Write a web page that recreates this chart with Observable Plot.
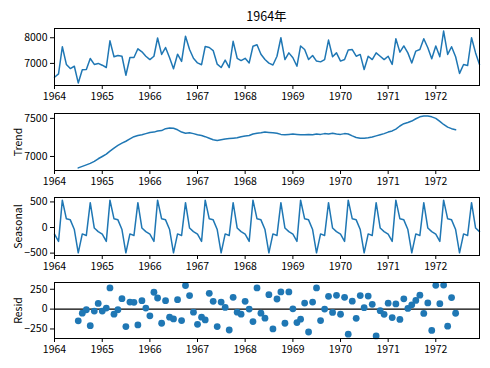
<!DOCTYPE html>
<html><head><meta charset="utf-8">
<script src="https://cdn.jsdelivr.net/npm/d3@7"></script>
<script src="https://cdn.jsdelivr.net/npm/@observablehq/plot@0.6"></script>
<style>
body{margin:0;background:#fff;}
#chart{position:relative;width:490px;height:368px;font-family:"Noto Sans CJK SC","DejaVu Sans",sans-serif;color:#000;}
#title{position:absolute;left:54px;width:425px;top:9px;text-align:center;font-size:12.5px;line-height:14px;}
.panel{position:absolute;left:0;}
</style></head><body>
<div id="chart"><div id="title">1964年</div></div>
<script>
// Monthly observed values, Jan 1964 - Dec 1972
const observed = [
  6460, 6590, 7650, 6960, 6800, 6890, 6240, 6750, 6760, 7190, 6960, 7000,
  6930, 6840, 7880, 7260, 7310, 7280, 6540, 7230, 7230, 7570, 7450, 7280,
  7150, 7280, 7990, 7350, 7620, 7220, 6790, 7360, 7080, 8060, 7540, 7200,
  7020, 6950, 7660, 7620, 7500, 6970, 6840, 7130, 6840, 7860, 7200, 7110,
  7200, 7020, 7670, 7730, 7360, 7150, 7010, 6940, 7280, 8000, 7150, 7410,
  7220, 6890, 7680, 7540, 7150, 7310, 7090, 7060, 7150, 7910, 7260, 7410,
  7090, 7150, 7520, 7540, 7280, 7350, 6760, 7280, 7150, 7410, 7280, 7150,
  7280, 6960, 7960, 7440, 7680, 7410, 7020, 7480, 7540, 7960, 7610, 7180,
  7680, 7260, 8260, 7350, 7650, 7260, 6610, 6960, 6920, 8000, 7410, 6960
];
// Trend, Jul 1964 - Jun 1972
const trendStartMonth = 6;
const trend = [
  6850, 6870, 6890, 6910, 6935, 6970,
  7000, 7030, 7070, 7110, 7145, 7175, 7200, 7230, 7260, 7275, 7285, 7300,
  7315, 7320, 7335, 7340, 7365, 7375, 7370, 7350, 7320, 7305, 7310, 7300,
  7285, 7275, 7260, 7240, 7220, 7210, 7220, 7230, 7235, 7240, 7245, 7260,
  7270, 7275, 7295, 7305, 7310, 7320, 7315, 7310, 7305, 7290, 7285, 7290,
  7295, 7290, 7285, 7285, 7290, 7285, 7295, 7290, 7300, 7295, 7305, 7295,
  7290, 7300, 7295, 7270, 7250, 7240, 7240, 7245, 7255, 7270, 7285, 7300,
  7320, 7335, 7360, 7400, 7430, 7445, 7465, 7495, 7520, 7530, 7530, 7520,
  7500, 7460, 7420, 7385, 7365, 7350
];
// Seasonal component by calendar month (Jan..Dec), repeats every year
const seasonalByMonth = [-130, -270, 535, 170, 150, -40, -495, -125, -155, 485, -10, -80];
// Residuals, Jul 1964 - Jun 1972
const resid = [
  -148, -51, -8, -208, -25, 72,
  -25, 13, 267, -64, -8, 131, -220, 89, 85, -199, 106, 13,
  -85, 212, 140, -178, 106, -102, -123, 119, -144, 297, 170, -38,
  -191, -102, -136, 199, 98, -220, 89, 21, -263, 148, -38, -64,
  98, 0, -157, 267, -51, -114, 182, -250, 127, 216, -178, 216,
  4, -170, -127, 76, -288, 89, 267, -144, 0, 161, -42, 174,
  -65, 148, -315, 100, -116, 170, 18, 164, 60, -338, -20, -66,
  75, -107, 65, -130, 130, 9, 54, 109, 176, -54, 78, -268,
  300, 68, 303, -215, 145, -52
];
const yearTicks = [1964, 1965, 1966, 1967, 1968, 1969, 1970, 1971, 1972];
const startYear = 1964;

const month = i => new Date(Date.UTC(startYear, i, 1));
const obsData = observed.map((v, i) => ({date: month(i), value: v}));
const trendData = trend.map((v, i) => ({date: month(i + trendStartMonth), value: v}));
const seasData = observed.map((_, i) => ({date: month(i), value: seasonalByMonth[i % 12]}));
const residData = resid.map((v, i) => ({date: month(i + trendStartMonth), value: v}));

const xDomain = [month(0), month(observed.length - 1)];
const xTicks = yearTicks.map(y => new Date(Date.UTC(y, 0, 1)));
const blue = "#1f77b4";
const fontFamily = '"Noto Sans CJK SC","DejaVu Sans",sans-serif';

function padded(values) {
  const [lo, hi] = d3.extent(values);
  const p = (hi - lo) * 0.05;
  return [lo - p, hi + p];
}

function panel({top, height, values, yTicks, label, marks}) {
  const mt = 2, mb = 22;
  const p = Plot.plot({
    width: 490, height: height + mt + mb,
    marginLeft: 54, marginRight: 11, marginTop: mt, marginBottom: mb,
    style: {fontFamily, fontSize: "10.5px", color: "#000", background: "transparent", overflow: "visible"},
    x: {type: "utc", domain: xDomain},
    y: {domain: padded(values), nice: false},
    marks: [
      ...marks,
      Plot.axisX({ticks: xTicks, tickFormat: d3.utcFormat("%Y"), tickSize: 4, tickPadding: 3, label: null, stroke: "#000"}),
      Plot.axisY({ticks: yTicks, tickFormat: d3.format("d"), tickSize: 4, tickPadding: 3, stroke: "#000",
        label, labelAnchor: "center", labelArrow: "none", labelOffset: 40}),
      Plot.frame({stroke: "#000", strokeWidth: 1})
    ]
  });
  p.classList.add("panel");
  p.style.top = (top - mt) + "px";
  document.getElementById("chart").appendChild(p);
}

panel({top: 28, height: 57, values: observed, yTicks: [7000, 8000], label: null,
  marks: [Plot.lineY(obsData, {x: "date", y: "value", stroke: blue, strokeWidth: 1.5})]});
panel({top: 113, height: 57, values: trend, yTicks: [7000, 7500], label: "Trend",
  marks: [Plot.lineY(trendData, {x: "date", y: "value", stroke: blue, strokeWidth: 1.5})]});
panel({top: 197, height: 58, values: seasonalByMonth, yTicks: [-500, 0, 500], label: "Seasonal",
  marks: [Plot.lineY(seasData, {x: "date", y: "value", stroke: blue, strokeWidth: 1.5})]});
panel({top: 282, height: 56, values: resid, yTicks: [-250, 0, 250], label: "Resid",
  marks: [
    Plot.ruleY([0], {stroke: "#000", strokeWidth: 1.3}),
    Plot.dot(residData, {x: "date", y: "value", fill: blue, r: 3.4})
  ]});
</script>
</body></html>
